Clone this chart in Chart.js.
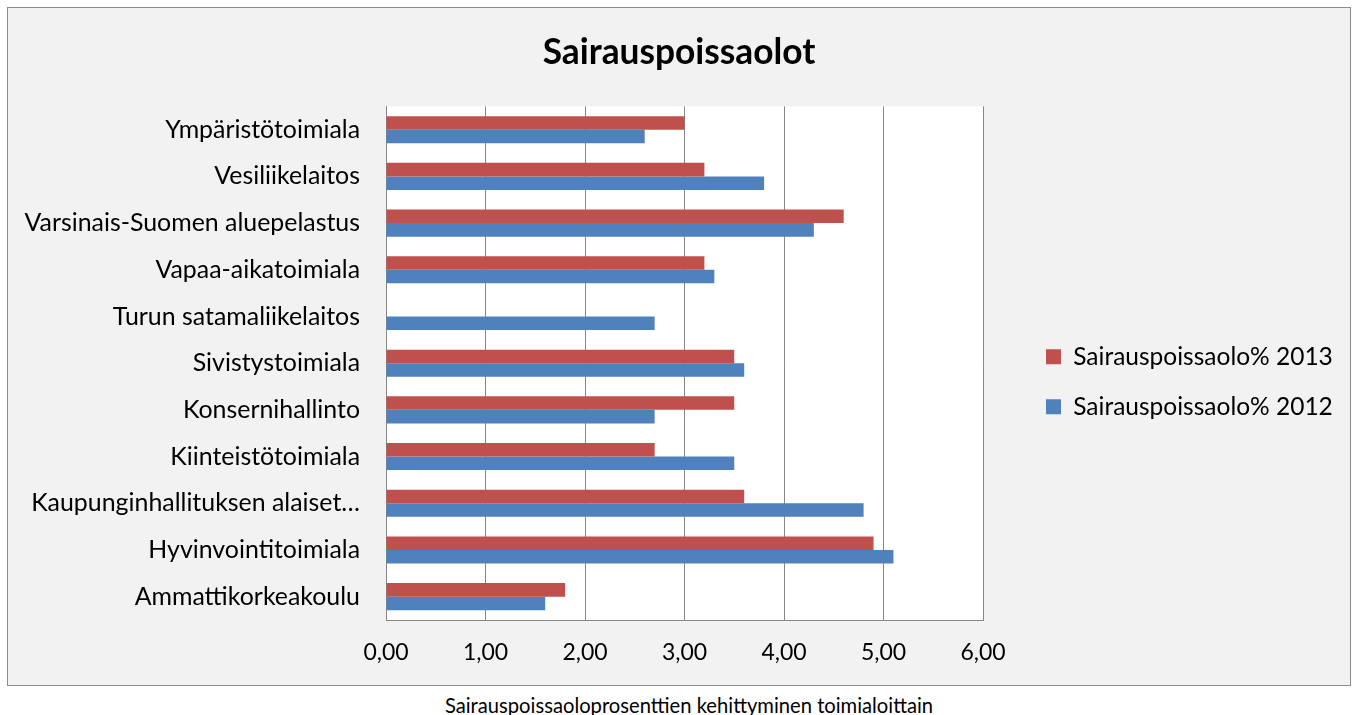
<!DOCTYPE html>
<html>
<head>
<meta charset="utf-8">
<script src="https://cdn.jsdelivr.net/npm/chart.js@4.4.1/dist/chart.umd.min.js"></script>
<style>
  html, body { margin: 0; padding: 0; background: #ffffff; }
  body { width: 1358px; height: 715px; position: relative; overflow: hidden; font-family: Lato, "Open Sans", sans-serif; }
  #frame { position: absolute; left: 7px; top: 7px; width: 1342px; height: 677px; border: 1px solid #8c8c8c; background: #f2f2f2; }
  #frame canvas { display: block; }
  #caption { position: absolute; left: 0; width: 1378px; top: 693px; text-align: center; font-family: Lato, sans-serif; font-size: 20.2px; line-height: 24px; color: #000; }
</style>
</head>
<body>
<div id="frame"><canvas id="c" width="1342" height="677"></canvas></div>
<div id="caption">Sairauspoissaoloprosenttien kehittyminen toimialoittain</div>
<script>
const categories = [
  "Ympäristötoimiala",
  "Vesiliikelaitos",
  "Varsinais-Suomen aluepelastus",
  "Vapaa-aikatoimiala",
  "Turun satamaliikelaitos",
  "Sivistystoimiala",
  "Konsernihallinto",
  "Kiinteistötoimiala",
  "Kaupunginhallituksen alaiset…",
  "Hyvinvointitoimiala",
  "Ammattikorkeakoulu"
];
const seriesNames = ["Sairauspoissaolo% 2013", "Sairauspoissaolo% 2012"];
const values2013 = [3.0, 3.2, 4.6, 3.2, null, 3.5, 3.5, 2.7, 3.6, 4.9, 1.8];
const values2012 = [2.6, 3.8, 4.3, 3.3, 2.7, 3.6, 2.7, 3.5, 4.8, 5.1, 1.6];
const xTicks = [0, 1, 2, 3, 4, 5, 6];

const FONT = "Lato, 'Open Sans', sans-serif";
const GRID = "#878787";
const LEG_PAD = 25.5;

const plotBg = {
  id: "plotBg",
  beforeDraw(chart) {
    const a = chart.chartArea, ctx = chart.ctx;
    ctx.save();
    ctx.fillStyle = "#ffffff";
    ctx.fillRect(a.left, a.top, a.right - a.left, a.bottom - a.top);
    ctx.restore();
  }
};
const legendPlace = {
  id: "legendPlace",
  afterInit(chart) {
    const lg = chart.legend;
    if (!lg) return;
    const origFit = Object.getPrototypeOf(lg).fit;
    lg.fit = function () { origFit.call(this); this.width = 367; };
  },
  afterLayout(chart) {
    const lg = chart.legend;
    if (!lg) return;
    const w = lg.width, h = lg.height;
    lg.left = 1038 - LEG_PAD; lg.right = lg.left + w;
    lg.top = 336.5 - LEG_PAD; lg.bottom = lg.top + h;
  }
};

new Chart(document.getElementById("c"), {
  type: "bar",
  data: {
    labels: categories,
    datasets: [
      { label: seriesNames[0], data: values2013, backgroundColor: "#c0504d", borderColor: "#c0504d", borderWidth: 0 },
      { label: seriesNames[1], data: values2012, backgroundColor: "#4f81bd", borderColor: "#4f81bd", borderWidth: 0 }
    ]
  },
  options: {
    indexAxis: "y",
    responsive: false,
    animation: false,
    maintainAspectRatio: false,
    categoryPercentage: 0.58,
    barPercentage: 1.0,
    layout: { padding: { left: 0, right: 0, top: 0, bottom: 0 } },
    plugins: {
      title: {
        display: true,
        text: "Sairauspoissaolot",
        color: "#000",
        font: { family: FONT, size: 35.3, weight: "bold" },
        padding: { top: 23, bottom: 33 }
      },
      legend: {
        position: "right",
        align: "start",
        labels: {
          color: "#000",
          font: { family: FONT, size: 24.5 },
          boxWidth: 15,
          boxHeight: 15,
          padding: LEG_PAD
        }
      },
      tooltip: { enabled: false }
    },
    scales: {
      x: {
        min: 0,
        max: 6,
        afterBuildTicks(s) { s.ticks = xTicks.map(v => ({ value: v })); },
        afterFit(s) { s.height = 65; },
        ticks: {
          color: "#000",
          font: { family: FONT, size: 23 },
          padding: 19,
          callback: v => Number(v).toFixed(2).replace(".", ",")
        },
        grid: { color: GRID, lineWidth: 1, drawTicks: false },
        border: { display: true, color: GRID, width: 1 }
      },
      y: {
        afterFit(s) { s.width = 378; },
        ticks: {
          color: "#000",
          font: { family: FONT, size: 24.9 },
          padding: 26,
          autoSkip: false
        },
        grid: { display: false, drawTicks: false },
        border: { display: true, color: GRID, width: 1 }
      }
    }
  },
  plugins: [plotBg, legendPlace]
});
</script>
</body>
</html>
